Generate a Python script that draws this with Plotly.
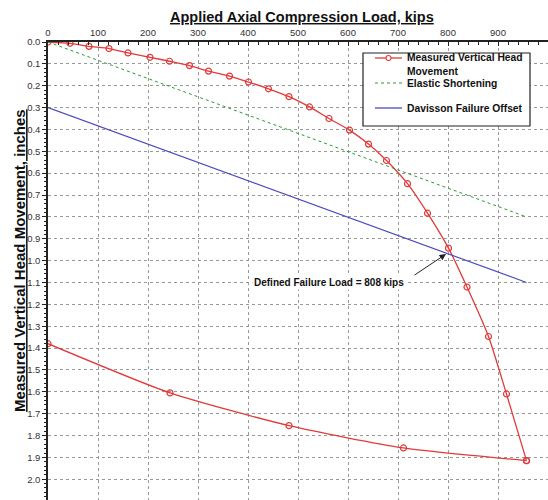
import plotly.graph_objects as go

# Measured vertical head movement: loading branch
load_loading = [0, 44, 82, 122, 160, 204, 243, 283, 321, 363, 401, 441, 482, 523, 562, 603,
                641, 677, 719, 759, 801, 838, 881, 917, 957]
move_loading = [0.0, 0.006, 0.02, 0.03, 0.05, 0.07, 0.088, 0.108, 0.133, 0.156, 0.183, 0.214,
                0.250, 0.297, 0.350, 0.403, 0.467, 0.542, 0.648, 0.783, 0.943, 1.121, 1.347,
                1.61, 1.915]
# unloading branch
load_unloading = [957, 711, 482, 244, 0]
move_unloading = [1.915, 1.857, 1.755, 1.605, 1.38]

load_elastic = [0, 957]
move_elastic = [0.0, 0.80]

load_davisson = [0, 957]
move_davisson = [0.30, 1.10]

failure_text = "Defined Failure Load = 808 kips"
legend_names = ["Measured Vertical Head", "Movement", "Elastic Shortening", "Davisson Failure Offset"]

x_ticks = list(range(0, 1001, 100))
y_ticks = [round(i * 0.1, 1) for i in range(0, 22)]

FONT = "Liberation Sans, Arial, sans-serif"
RED = "#E03A3A"
GREEN = "#2E9A2E"
BLUE = "#4B4BBE"

# plot area geometry (pixels) for placing the hand-drawn legend
L, T, W, H = 48, 42, 500, 458


def px(xp):
    return (xp - L) / W


def py(yp):
    return 1 - (yp - T) / H


fig = go.Figure()

fig.add_trace(go.Scatter(
    x=load_loading, y=move_loading, mode="lines+markers", name=legend_names[0],
    line=dict(color=RED, width=1.3, shape="spline", smoothing=0.6),
    marker=dict(symbol="circle-open", size=6, color=RED, line=dict(width=1.2, color=RED)),
    showlegend=False,
))
fig.add_trace(go.Scatter(
    x=load_unloading, y=move_unloading, mode="lines+markers", name=legend_names[0],
    line=dict(color=RED, width=1.3, shape="spline", smoothing=0.6),
    marker=dict(symbol="circle-open", size=6, color=RED, line=dict(width=1.2, color=RED)),
    showlegend=False,
))
fig.add_trace(go.Scatter(
    x=load_elastic, y=move_elastic, mode="lines", name=legend_names[2],
    line=dict(color=GREEN, width=1, dash="dot"), showlegend=False,
))
fig.add_trace(go.Scatter(
    x=load_davisson, y=move_davisson, mode="lines", name=legend_names[3],
    line=dict(color=BLUE, width=1.2), showlegend=False,
))

# arrow pointing to the failure load intersection
fig.add_annotation(x=796, y=0.97, xref="x", yref="y", text="", showarrow=True,
                   ax=-33, ay=22, arrowhead=2, arrowsize=1.3, arrowwidth=1, arrowcolor="#222")
fig.add_annotation(x=562, y=1.10, xref="x", yref="y", text="<b>" + failure_text + "</b>",
                   showarrow=False, bgcolor="white", font=dict(family=FONT, size=10, color="#111"))

# titles
fig.add_annotation(x=0.507, y=1.054, xref="paper", yref="paper",
                   text="<b><u>Applied Axial Compression Load, kips</u></b>",
                   showarrow=False, font=dict(family=FONT, size=14.5, color="#111"),
                   xanchor="center", yanchor="middle")
fig.add_annotation(x=-0.056, y=0.522, xref="paper", yref="paper",
                   text="<b><u>Measured Vertical Head Movement, inches</u></b>",
                   showarrow=False, textangle=-90, font=dict(family=FONT, size=15, color="#111"),
                   xanchor="center", yanchor="middle")

# legend box
fig.add_shape(type="rect", xref="paper", yref="paper", x0=px(363), x1=px(530), y0=py(53), y1=py(126),
              line=dict(color="#222", width=1.2), fillcolor="white", layer="above")
fig.add_shape(type="line", xref="paper", yref="paper", x0=px(375), x1=px(402), y0=py(58), y1=py(58),
              line=dict(color=RED, width=1.3), layer="above")
fig.add_shape(type="circle", xref="paper", yref="paper", x0=px(386), x1=px(391), y0=py(55.5), y1=py(60.5),
              line=dict(color=RED, width=1.1), fillcolor="white", layer="above")
fig.add_shape(type="line", xref="paper", yref="paper", x0=px(375), x1=px(402), y0=py(83), y1=py(83),
              line=dict(color=GREEN, width=1, dash="dot"), layer="above")
fig.add_shape(type="line", xref="paper", yref="paper", x0=px(375), x1=px(402), y0=py(108), y1=py(108),
              line=dict(color=BLUE, width=1.3), layer="above")
for name, yp in zip(legend_names, [58, 71, 83, 108]):
    fig.add_annotation(x=px(405), y=py(yp), xref="paper", yref="paper", text="<b>" + name + "</b>",
                       showarrow=False, xanchor="left", yanchor="middle",
                       font=dict(family=FONT, size=10.3, color="#111"))

fig.update_layout(
    width=548, height=500,
    margin=dict(l=L, r=0, t=T, b=0),
    paper_bgcolor="white", plot_bgcolor="white",
    font=dict(family=FONT, size=9.5, color="#333"),
    showlegend=False,
)

fig.update_xaxes(
    side="top", range=[0, 1000], tickvals=x_ticks, ticktext=[str(v) for v in x_ticks],
    showgrid=True, gridcolor="#999", griddash="dot", gridwidth=1,
    showline=True, linecolor="#222", linewidth=1.5,
    ticks="inside", ticklen=4, tickcolor="#222",
    minor=dict(dtick=20, ticks="inside", ticklen=3, tickcolor="#222", showgrid=False),
    zeroline=False,
)
fig.update_yaxes(
    range=[2.095, 0], tickvals=y_ticks, ticktext=["%.1f" % v for v in y_ticks],
    showgrid=True, gridcolor="#999", griddash="dot", gridwidth=1,
    showline=True, linecolor="#222", linewidth=1.5,
    ticks="outside", ticklen=4, tickcolor="#222",
    minor=dict(dtick=0.02, ticks="outside", ticklen=2, tickcolor="#222", showgrid=False),
    zeroline=False,
)

fig.write_html("out.html")
